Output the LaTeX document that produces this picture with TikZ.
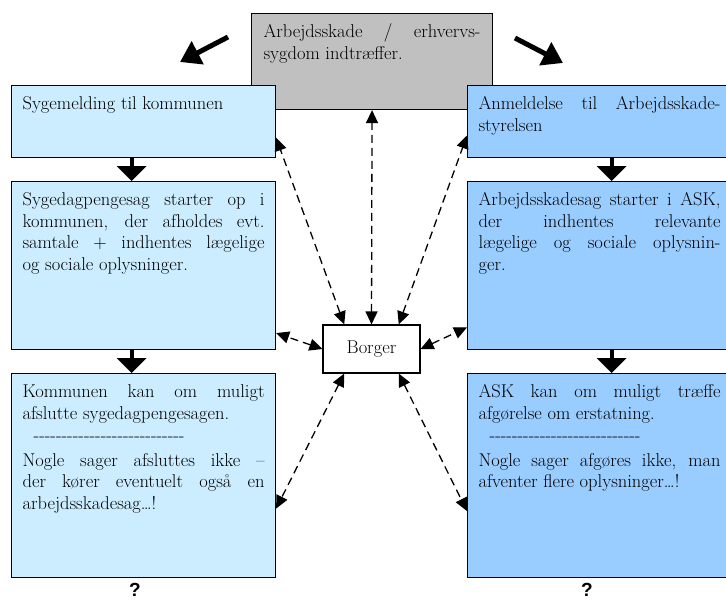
\documentclass[tikz,border=0pt]{standalone}
\usepackage{fontspec}
\newfontfamily\qmarkfont{Liberation Sans}
\usepackage{xcolor}
\usepackage{tikz}
\usetikzlibrary{arrows.meta, calc}

\definecolor{kommuneblue}{RGB}{204,236,255}
\definecolor{askblue}{RGB}{153,204,255}
\definecolor{eventgray}{RGB}{192,192,192}

\newcommand{\boxfont}{\fontsize{18.5}{21.5}\selectfont\tolerance 10000 \hyphenpenalty 10000 }
\newcommand{\dashrow}{\hspace*{7pt}\leaders\hbox{-}\hskip 160pt\null}

\tikzset{
    flowbox/.style={
        draw=black,
        line width=1.1pt,
        anchor=north west,
        inner xsep=11pt,
        inner ysep=9pt,
        font=\boxfont
    },
    kommunebox/.style={flowbox, fill=kommuneblue},
    askbox/.style={flowbox, fill=askblue},
    dblarrow/.style={
        line width=1.3pt,
        dash pattern=on 8pt off 5pt,
        {Triangle[length=13pt,width=12pt]}-{Triangle[length=13pt,width=12pt]}
    },
    downarrow/.style={line width=4pt, -{Triangle[length=15pt,width=29pt]}},
    bigarrow/.style={line width=5pt, -{Triangle[length=20pt,width=25pt]}}
}

\begin{document}
\begin{tikzpicture}[x=1pt, y=-1pt]
    \useasboundingbox (0,0) rectangle (726,600);

    % the event on top
    \node[flowbox, fill=eventgray, inner xsep=12pt] (skade) at (251,13)
        {\parbox[c][78pt][t]{217pt}{\strut Arbejdsskade / erhvervs-\linebreak sygdom indtræffer.}};

    % kommunen (left column)
    \node[kommunebox] (sygemeld) at (11,85)
        {\parbox[c][54pt][t]{242pt}{\strut Sygemelding til kommunen}};
    \node[kommunebox] (sygesag) at (11,181)
        {\parbox[c][150pt][t]{242pt}{\strut Sygedagpengesag starter op i\linebreak
            kommunen, der afholdes evt.\linebreak
            samtale + indhentes lægelige\linebreak
            og sociale oplysninger.}};
    \node[kommunebox] (kommafg) at (11,373)
        {\parbox[c][186pt][t]{242pt}{\strut Kommunen kan om muligt\linebreak
            afslutte sygedagpengesagen.\\[1pt]
            \dashrow\\[3pt]
            Nogle sager afsluttes ikke –\linebreak
            der kører eventuelt også en\linebreak
            arbejdsskadesag…!}};

    % arbejdsskadestyrelsen (right column)
    \node[askbox] (anmeld) at (467,85)
        {\parbox[c][54pt][t]{242pt}{\strut Anmeldelse til Arbejdsskade-\linebreak styrelsen}};
    \node[askbox] (asksag) at (467,181)
        {\parbox[c][150pt][t]{242pt}{\strut Arbejdsskadesag starter i ASK,\linebreak
            der indhentes relevante\linebreak
            lægelige og sociale oplysnin-\linebreak
            ger.}};
    \node[askbox] (askafg) at (467,373)
        {\parbox[c][186pt][t]{242pt}{\strut ASK kan om muligt træffe\linebreak
            afgørelse om erstatning.\\[1pt]
            \dashrow\\[3pt]
            Nogle sager afgøres ikke, man\linebreak
            afventer flere oplysninger…!}};

    % the citizen in the middle
    \node[draw=black, line width=1.1pt, fill=white, minimum width=97pt, minimum height=48pt,
          font=\boxfont] (borger) at (371.5,349) {Borger};

    % question marks
    \node[font=\qmarkfont\bfseries\fontsize{19}{19}\selectfont, inner sep=0pt] (qleft) at (135,590) {?};
    \node[font=\qmarkfont\bfseries\fontsize{19}{19}\selectfont, inner sep=0pt] (qright) at (587,590) {?};

    % big arrows from the event
    \coordinate (bigl-start) at (228,37);
    \coordinate (bigl-end) at (180,62);
    \coordinate (bigr-start) at (515,38);
    \coordinate (bigr-end) at (563,63);
    \draw[bigarrow] (bigl-start) -- (bigl-end);
    \draw[bigarrow] (bigr-start) -- (bigr-end);

    % flow down each column
    \draw[downarrow] ([xshift=-12pt]sygemeld.south) -- ([xshift=-12pt]sygesag.north);
    \draw[downarrow] ([xshift=-12pt]sygesag.south) -- ([xshift=-12pt]kommafg.north);
    \draw[downarrow] ([xshift=12pt]anmeld.south) -- ([xshift=12pt]asksag.north);
    \draw[downarrow] ([xshift=12pt]asksag.south) -- ([xshift=12pt]askafg.north);

    % borger <-> everything
    \draw[dblarrow] (borger.north) -- (skade.south);
    \draw[dblarrow] (borger.138) -- (sygemeld.-7);
    \draw[dblarrow] (borger.42) -- (anmeld.186);
    \draw[dblarrow] (borger.west) -- (sygesag.-27);
    \draw[dblarrow] (borger.east) -- (asksag.205);
    \draw[dblarrow] (borger.222) -- (kommafg.-14);
    \draw[dblarrow] (borger.318) -- (askafg.195);
\end{tikzpicture}
\end{document}
